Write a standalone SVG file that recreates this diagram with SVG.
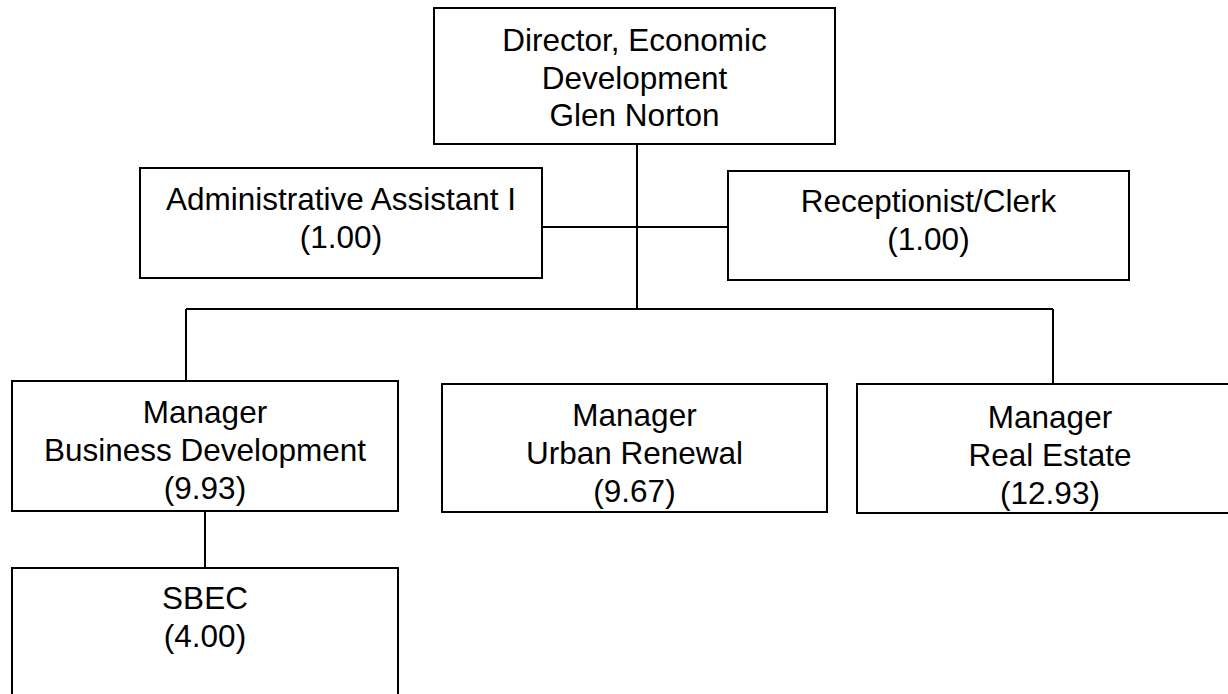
<svg xmlns="http://www.w3.org/2000/svg" width="1228" height="694" viewBox="0 0 1228 694">
<style>
.box{fill:#fff;stroke:#000;stroke-width:2}
.ln{stroke:#000;stroke-width:2;fill:none}
text{font-family:"Liberation Sans",Arial,sans-serif;font-size:31.5px;fill:#000;text-anchor:middle}
</style>
<rect width="1228" height="694" fill="#fff"/>
<g id="connectors">
<line class="ln" x1="637" y1="144" x2="637" y2="309"/>
<line class="ln" x1="542" y1="227" x2="728" y2="227"/>
<line class="ln" x1="186" y1="309" x2="1053" y2="309"/>
<line class="ln" x1="186" y1="309" x2="186" y2="381"/>
<line class="ln" x1="1053" y1="309" x2="1053" y2="384"/>
<line class="ln" x1="205" y1="511" x2="205" y2="568"/>
</g>
<g id="director">
<rect class="box" x="434" y="8" width="401" height="136"/>
<text x="634.5" y="51">Director, Economic</text>
<text x="634.5" y="88.5">Development</text>
<text x="634.5" y="126">Glen Norton</text>
</g>
<g id="admin">
<rect class="box" x="140" y="168" width="402" height="110"/>
<text x="341" y="210">Administrative Assistant I</text>
<text x="341" y="248">(1.00)</text>
</g>
<g id="receptionist">
<rect class="box" x="728" y="171" width="401" height="109"/>
<text x="928.5" y="212">Receptionist/Clerk</text>
<text x="928.5" y="250">(1.00)</text>
</g>
<g id="business">
<rect class="box" x="12" y="381" width="386" height="130"/>
<text x="205" y="423">Manager</text>
<text x="205" y="461">Business Development</text>
<text x="205" y="499">(9.93)</text>
</g>
<g id="urban">
<rect class="box" x="442" y="384" width="385" height="128"/>
<text x="634.5" y="426">Manager</text>
<text x="634.5" y="464">Urban Renewal</text>
<text x="634.5" y="502">(9.67)</text>
</g>
<g id="realestate">
<rect class="box" x="857" y="384" width="386" height="129"/>
<text x="1050" y="428">Manager</text>
<text x="1050" y="466">Real Estate</text>
<text x="1050" y="504">(12.93)</text>
</g>
<g id="sbec">
<rect class="box" x="12" y="568" width="386" height="140"/>
<text x="205" y="609">SBEC</text>
<text x="205" y="647">(4.00)</text>
</g>
</svg>
